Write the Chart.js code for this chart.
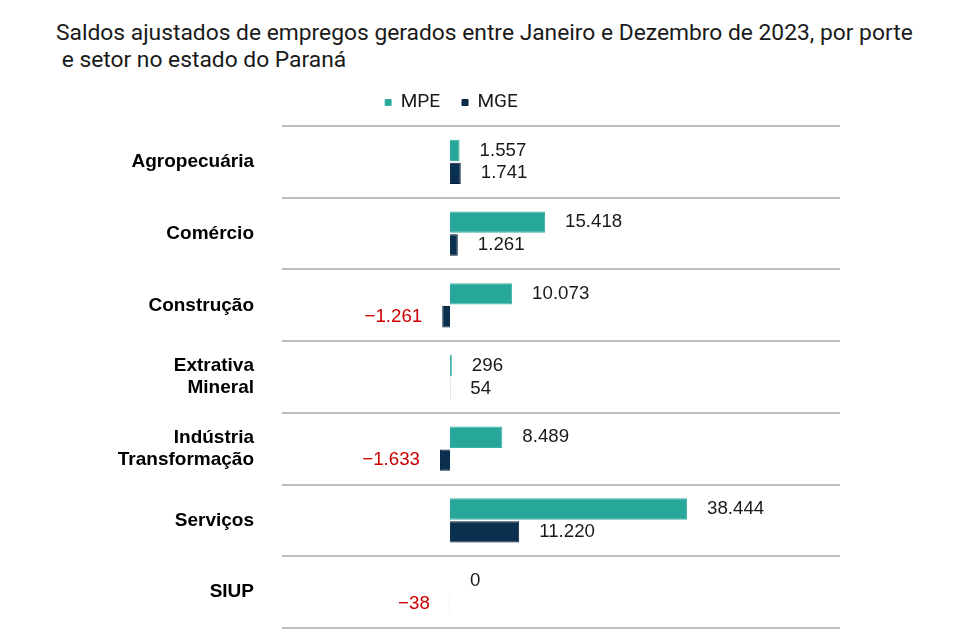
<!DOCTYPE html>
<html>
<head>
<meta charset="utf-8">
<script src="https://cdn.jsdelivr.net/npm/chart.js@4.4.1/dist/chart.umd.min.js"></script>
<style>
html,body{margin:0;padding:0;background:#fff;overflow:hidden;}
#wrap{position:relative;width:960px;height:640px;}
#title{position:absolute;left:56px;top:20px;font-family:Roboto,"Noto Sans",sans-serif;font-size:22.8px;line-height:26.5px;color:#1a1a1a;white-space:pre;}
canvas{position:absolute;left:0;top:0;}
</style>
</head>
<body>
<div id="wrap">
<div id="title">Saldos ajustados de empregos gerados entre Janeiro e Dezembro de 2023, por porte
 e setor no estado do Paraná</div>
<canvas id="c" width="960" height="640"></canvas>
</div>
<script>
const categories = ["Agropecuária", "Comércio", "Construção", ["Extrativa", "Mineral"], ["Indústria", "Transformação"], "Serviços", "SIUP"];
const seriesNames = ["MPE", "MGE"];
const mpeValues = [1557, 15418, 10073, 296, 8489, 38444, 0];
const mgeValues = [1741, 1261, -1261, 54, -1633, 11220, -38];
const seriesColors = ["#27A69A", "#0B2F4E"];

function fmt(v){
  const s = Math.abs(v).toString().replace(/\B(?=(\d{3})+(?!\d))/g, ".");
  return (v < 0 ? "\u2212" : "") + s;
}

const valueLabels = {
  id: "valueLabels",
  afterDatasetsDraw(chart){
    const ctx = chart.ctx;
    ctx.save();
    ctx.font = "18.7px 'Liberation Sans', Arial, sans-serif";
    ctx.textBaseline = "middle";
    chart.data.datasets.forEach((ds, di) => {
      const meta = chart.getDatasetMeta(di);
      meta.data.forEach((bar, i) => {
        const v = ds.data[i];
        if (v < 0) {
          ctx.fillStyle = "#CC0000";
          ctx.textAlign = "right";
          ctx.fillText(fmt(v), bar.x - 20, bar.y);
        } else {
          ctx.fillStyle = "#1a1a1a";
          ctx.textAlign = "left";
          ctx.fillText(fmt(v), bar.x + 20, bar.y);
        }
      });
    });
    ctx.restore();
  }
};

const legendGap = {
  id: "legendGap",
  beforeInit(chart){
    const lg = chart.legend;
    if (!lg) return;
    const f = lg.fit;
    lg.fit = function(){ f.call(this); this.height += 4; };
  }
};

new Chart(document.getElementById("c"), {
  type: "bar",
  data: {
    labels: categories,
    datasets: [
      { label: seriesNames[0], data: mpeValues, backgroundColor: seriesColors[0], borderColor: "#3DB3A7", borderWidth: 1 },
      { label: seriesNames[1], data: mgeValues, backgroundColor: seriesColors[1], borderColor: "#071F36", borderWidth: 1 }
    ]
  },
  options: {
    indexAxis: "y",
    responsive: false,
    animation: false,
    devicePixelRatio: 1,
    categoryPercentage: 0.64,
    barPercentage: 0.93,
    layout: { padding: { left: 63, right: 120, top: 71, bottom: 12 } },
    plugins: {
      title: { display: false },
      tooltip: { enabled: false },
      legend: {
        display: true,
        position: "top",
        labels: {
          boxWidth: 6,
          boxHeight: 6,
          padding: 22,
          color: "#1a1a1a",
          font: { family: "Roboto, 'Noto Sans', sans-serif", size: 19 }
        }
      }
    },
    scales: {
      x: {
        display: false,
        min: -27250,
        max: 63250
      },
      y: {
        position: "left",
        border: { display: false },
        grid: { offset: true, drawTicks: false, color: "#BFBFBF", lineWidth: 2 },
        ticks: {
          padding: 28,
          color: "#000",
          font: { family: "'Liberation Sans', Arial, sans-serif", size: 19, weight: "bold", lineHeight: 1.16 }
        },
        afterFit(s){ s.width = 219; s.paddingTop = 0; s.paddingBottom = 0; }
      }
    }
  },
  plugins: [valueLabels, legendGap]
});
</script>
</body>
</html>
